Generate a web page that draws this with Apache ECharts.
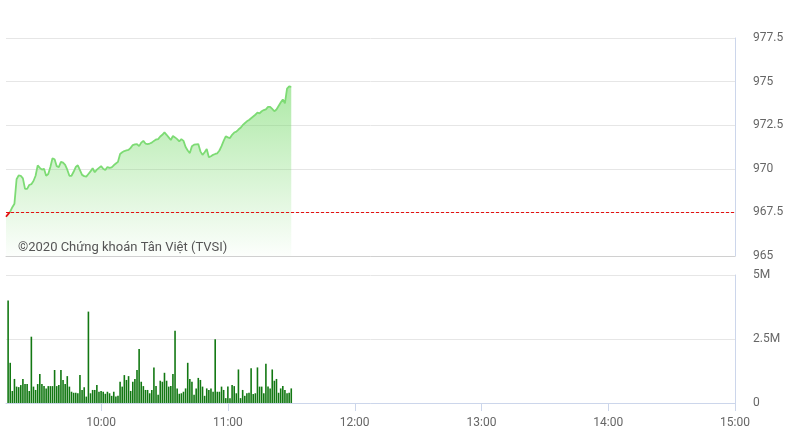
<!DOCTYPE html>
<html>
<head>
<meta charset="utf-8">
<script src="https://cdn.jsdelivr.net/npm/echarts@6/dist/echarts.min.js"></script>
<style>
html,body{margin:0;padding:0;background:#fff;}
#chart{width:790px;height:444px;}
</style>
</head>
<body>
<div id="chart"></div>
<script>
// Session: minutes since midnight
const startMinute = 555;   // 09:15
const endMinute = 900;     // 15:00
const refPrice = 967.5;
const priceTicks = [965, 967.5, 970, 972.5, 975, 977.5];
const volumeTicks = ['0', '2.5M', '5M'];
const timeLabels = ['10:00', '11:00', '12:00', '13:00', '14:00', '15:00'];
const watermark = '©2020 Chứng khoán Tân Việt (TVSI)';

// Index price, one value per minute from 09:15 to 11:30
const prices = [
  967.25, 967.4, 967.55, 967.8, 968.0, 969.4, 969.62, 969.6, 969.45, 968.85,
  968.85, 969.07, 969.12, 969.3, 969.6, 970.2, 970.05, 969.95, 970.0, 969.6,
  969.7, 970.1, 970.6, 970.55, 970.15, 970.1, 970.4, 970.35, 970.22, 969.95,
  969.6, 969.6, 969.83, 970.1, 970.2, 969.93, 969.65, 969.58, 969.55, 969.7,
  969.85, 970.03, 969.8, 969.95, 970.05, 970.15, 970.0, 969.93, 970.1, 970.05,
  970.08, 970.2, 970.3, 970.4, 970.85, 970.95, 971.02, 971.05, 971.08, 971.2,
  971.36, 971.4, 971.42, 971.3, 971.5, 971.6, 971.45, 971.42, 971.45, 971.5,
  971.6, 971.68, 971.7, 971.85, 971.95, 972.09, 971.95, 971.8, 971.65, 971.88,
  971.8, 971.7, 971.57, 971.7, 971.6, 971.25, 971.05, 970.9, 971.3, 971.38,
  971.4, 971.42, 971.0, 970.8, 970.95, 971.13, 970.66, 970.72, 970.8, 970.85,
  970.89, 971.05, 971.3, 971.6, 971.86, 971.8, 971.76, 971.95, 972.08, 972.13,
  972.25, 972.35, 972.5, 972.61, 972.72, 972.8, 972.9, 973.0, 973.1, 973.22,
  973.18, 973.3, 973.37, 973.41, 973.55, 973.55, 973.43, 973.3, 973.4, 973.6,
  973.8, 973.98, 973.75, 974.6, 974.72, 974.7
];

// Volume (millions), one bar per minute from 09:16 to 11:30
const volumes = [
  4.0, 1.57, 0.47, 0.94, 0.64, 0.62, 0.70, 0.94, 0.74, 0.74, 0.47, 2.59,
  0.64, 0.51, 0.74, 1.13, 0.74, 0.66, 0.57, 0.66, 0.66, 0.66, 1.29, 0.66, 0.70,
  1.29, 0.90, 0.74, 1.05, 0.64, 0.44, 0.40, 0.40, 0.38, 1.09, 0.51, 0.62, 0.25,
  3.57,
  0.38, 0.51, 0.51, 0.70, 0.44, 0.47, 0.44, 0.36, 0.44, 0.38, 0.28, 0.44, 0.25,
  0.28, 0.83, 0.64, 1.09, 0.90, 1.05, 0.47, 0.83, 0.94, 1.29,
  2.11,
  0.83, 0.66, 0.51, 0.51, 0.38, 0.51, 1.39, 0.66, 0.32, 0.87, 0.83, 1.18, 0.87,
  0.64, 0.66, 1.13,
  2.82,
  0.57, 0.36, 0.38, 0.44, 0.57, 1.57, 0.94, 0.83, 0.32, 0.57, 0.98, 0.90, 0.64,
  0.28, 0.57, 0.51, 0.57, 0.44,
  2.49,
  0.44, 0.44, 0.64, 0.51, 0.19, 0.64, 0.19, 0.70, 0.66, 0.38, 1.31, 0.19, 0.51,
  0.28, 0.38, 0.40, 1.36, 0.35, 0.38, 1.39, 0.64, 0.64, 0.38, 1.53, 0.64, 0.57,
  1.31, 0.87, 0.94, 0.40, 0.57, 0.66, 0.51, 0.38, 0.40, 0.57
];
const volumeStartMinute = 556; // 09:16

function toMinute(s) { const p = s.split(':'); return (+p[0]) * 60 + (+p[1]); }
function fmtMinute(m) {
  const h = Math.floor(m / 60), mm = Math.round(m % 60);
  return (h < 10 ? '0' : '') + h + ':' + (mm < 10 ? '0' : '') + mm;
}

const priceData = prices.map((v, i) => [startMinute + i, v]);
const volumeData = volumes.map((v, i) => [volumeStartMinute + i, v]);
const labelMinutes = timeLabels.map(toMinute);

const axisLineColor = '#ccd6eb';
const gridColor = '#e6e6e6';
const labelColor = '#666666';
const upColor = '#7ddb74';
const downColor = '#e41111';

const chart = echarts.init(document.getElementById('chart'), null, { renderer: 'canvas' });
const option = {
  animation: false,
  backgroundColor: '#ffffff',
  grid: [
    { left: 6, right: 55, top: 38, height: 218 },
    { left: 6, right: 55, top: 275, height: 128 }
  ],
  xAxis: [
    {
      type: 'value', gridIndex: 0, min: startMinute, max: endMinute,
      axisLine: { show: true, lineStyle: { color: '#d0d0d0' } },
      axisTick: { show: false }, axisLabel: { show: false }, splitLine: { show: false }
    },
    {
      type: 'value', gridIndex: 1, min: startMinute, max: endMinute,
      axisLine: { show: true, lineStyle: { color: axisLineColor } },
      axisTick: { show: false },
      axisLabel: {
        customValues: labelMinutes, formatter: v => fmtMinute(v),
        color: labelColor, fontSize: 12, margin: 14,
        fontFamily: '"Liberation Sans Narrow", "Roboto", sans-serif'
      },
      splitLine: { show: false }
    }
  ],
  yAxis: [
    {
      type: 'value', gridIndex: 0, position: 'right',
      min: priceTicks[0], max: priceTicks[priceTicks.length - 1], interval: 2.5,
      axisLine: { show: true, lineStyle: { color: axisLineColor } },
      axisTick: { show: false },
      axisLabel: { color: labelColor, fontSize: 12, margin: 18, fontFamily: 'Roboto, sans-serif' },
      splitLine: { show: true, lineStyle: { color: gridColor } }
    },
    {
      type: 'value', gridIndex: 1, position: 'right', min: 0, max: 5, interval: 2.5,
      axisLine: { show: true, lineStyle: { color: axisLineColor } },
      axisTick: { show: false },
      axisLabel: {
        color: labelColor, fontSize: 12, margin: 18, fontFamily: 'Roboto, sans-serif',
        formatter: v => volumeTicks[Math.round(v / 2.5)]
      },
      splitLine: { show: true, lineStyle: { color: gridColor } }
    }
  ],
  graphic: [{
    type: 'text', left: 18, top: 241, z: 100,
    style: { text: watermark, fill: '#555555', font: '13px Roboto, sans-serif' }
  }],
  series: [
    {
      type: 'line', xAxisIndex: 0, yAxisIndex: 0, data: priceData,
      symbol: 'none', smooth: false,
      lineStyle: { width: 1.8, color: upColor },
      areaStyle: {
        origin: 'start',
        color: new echarts.graphic.LinearGradient(0, 0, 0, 1, [
          { offset: 0, color: 'rgba(118,218,106,0.85)' },
          { offset: 1, color: 'rgba(118,218,106,0.03)' }
        ])
      },
      markLine: {
        silent: true, symbol: ['none', 'none'], label: { show: false },
        lineStyle: { color: downColor, width: 1, type: [3, 2] },
        data: [{ yAxis: refPrice }]
      }
    },
    {
      type: 'bar', xAxisIndex: 1, yAxisIndex: 1, data: volumeData,
      barWidth: 1.6, itemStyle: { color: '#127812' }
    }
  ]
};
chart.setOption(option);

// Split line colour at the reference price (red below, green above) via a global gradient
const yTop = chart.convertToPixel({ gridIndex: 0 }, [startMinute, priceTicks[priceTicks.length - 1]])[1];
const yBot = chart.convertToPixel({ gridIndex: 0 }, [startMinute, priceTicks[0]])[1];
const yRef = chart.convertToPixel({ gridIndex: 0 }, [startMinute, refPrice])[1];
const t = (yRef - yTop) / (yBot - yTop);
chart.setOption({
  series: [{
    lineStyle: {
      color: new echarts.graphic.LinearGradient(0, yTop, 0, yBot, [
        { offset: 0, color: upColor },
        { offset: t, color: upColor },
        { offset: t, color: downColor },
        { offset: 1, color: downColor }
      ], true)
    }
  }]
});

// Ticks under the time labels on the volume axis
const tickEls = labelMinutes.map(m => {
  const p = chart.convertToPixel({ gridIndex: 1 }, [m, 0]);
  const x = Math.round(p[0]) + 0.5;
  return { type: 'line', z: 50, shape: { x1: x, y1: p[1], x2: x, y2: p[1] + 8 },
           style: { stroke: axisLineColor, lineWidth: 1 } };
});
chart.setOption({ graphic: option.graphic.concat(tickEls) });
</script>
</body>
</html>
